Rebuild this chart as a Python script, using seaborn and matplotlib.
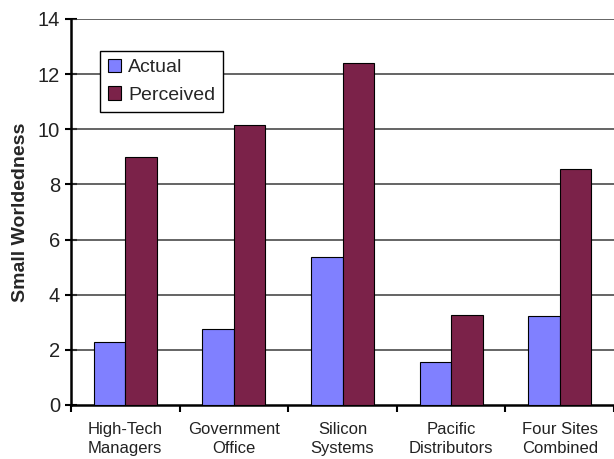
import matplotlib
matplotlib.use("Agg")
import matplotlib.pyplot as plt
import seaborn as sns
import pandas as pd
from matplotlib.patches import Patch

categories = ["High-Tech\nManagers", "Government\nOffice", "Silicon\nSystems",
              "Pacific\nDistributors", "Four Sites\nCombined"]
actual = [2.28, 2.75, 5.37, 1.56, 3.22]
perceived = [9.0, 10.15, 12.4, 3.28, 8.56]
series = ["Actual", "Perceived"]
yticks = [0, 2, 4, 6, 8, 10, 12, 14]

df = pd.DataFrame({
    "cat": categories * 2,
    "val": actual + perceived,
    "series": [series[0]] * len(categories) + [series[1]] * len(categories),
})

sns.set_style("white")
plt.rcParams["font.family"] = ["Liberation Sans", "DejaVu Sans"]

colors = {"Actual": "#8080FF", "Perceived": "#7B2249"}

fig = plt.figure(figsize=(6.14, 4.59), dpi=100)
ax = fig.add_axes([71 / 614, 1 - 405 / 459, 1 - 71 / 614, (405 - 19) / 459])

sns.barplot(data=df, x="cat", y="val", hue="series", palette=colors,
            saturation=1, width=0.58, edgecolor="black", linewidth=0.8, ax=ax,
            legend=False, zorder=3)

ax.set_ylim(0, 14)
ax.set_xlim(-0.5, 4.5)
ax.set_yticks(yticks)
ax.set_yticklabels([str(t) for t in yticks], fontsize=14.5, color="#222222")
for t in yticks[1:]:
    ax.axhline(t, color="#3a3a3a", lw=1.1, zorder=1)

ax.set_xticks([i - 0.5 for i in range(len(categories) + 1)])
ax.set_xticklabels([])
ax.set_xticks(range(len(categories)), minor=True)
ax.set_xticklabels(categories, minor=True, fontsize=12, color="#222222",
                   linespacing=1.35)
ax.tick_params(axis="x", which="major", direction="out", length=5, width=1.5,
               color="black", bottom=True)
ax.tick_params(axis="x", which="minor", length=0, pad=12)
ax.tick_params(axis="y", direction="inout", length=8, width=1.5, color="black",
               left=True, pad=4)

for s in ["top", "right"]:
    ax.spines[s].set_visible(False)
for s in ["left", "bottom"]:
    ax.spines[s].set_color("black")
    ax.spines[s].set_linewidth(1.8)

ax.set_xlabel("")
ax.set_ylabel("Small Worldedness", fontsize=14, fontweight="bold", labelpad=6)

handles = [Patch(facecolor=colors[s], edgecolor="black", linewidth=0.8, label=s)
           for s in series]
leg = fig.legend(handles=handles, loc="upper left",
                 bbox_to_anchor=(100 / 614, 1 - 51 / 459),
                 bbox_transform=fig.transFigure, borderaxespad=0,
                 fontsize=14, frameon=True, fancybox=False,
                 handlelength=0.7, handleheight=0.7, handletextpad=0.35,
                 labelspacing=0.5, borderpad=0.4)
leg.get_frame().set_edgecolor("black")
leg.get_frame().set_linewidth(1.0)
leg.get_frame().set_alpha(1)

fig.savefig("out.png", dpi=100)
